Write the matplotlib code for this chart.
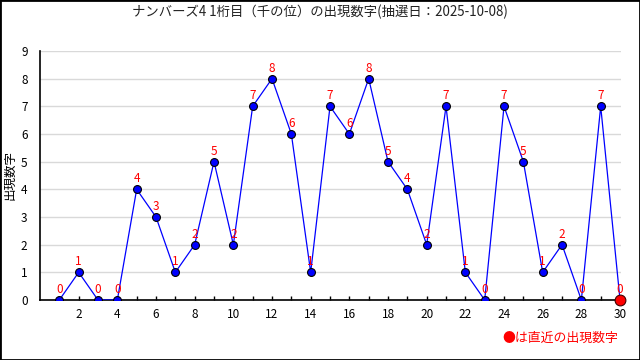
import numpy as np
import matplotlib
matplotlib.use("Agg")
import matplotlib.pyplot as plt
from matplotlib.patches import Rectangle

plt.rcParams['font.family'] = ['Noto Sans CJK JP', 'DejaVu Sans']

draws = list(range(1, 31))
digits = [0, 1, 0, 0, 4, 3, 1, 2, 5, 2, 7, 8, 6, 1, 7, 6, 8, 5, 4, 2,
          7, 1, 0, 7, 5, 1, 2, 0, 7, 0]
title = "ナンバーズ4 1桁目（千の位）の出現数字(抽選日：2025-10-08)"

fig = plt.figure(figsize=(6.4, 3.6), dpi=100)
ax = fig.add_axes([40 / 640, 1 - 300 / 360, 581 / 640, 249 / 360])

# 枠線
fig.patches.append(Rectangle((0, 0), 1, 1, transform=fig.transFigure,
                             fill=False, edgecolor='black', linewidth=2))

ax.plot(draws, digits, color='blue', lw=0.9, zorder=3)
ax.scatter(draws[:-1], digits[:-1], s=32, color='blue', edgecolor='black',
           linewidth=0.8, zorder=4)
ax.scatter(draws[-1:], digits[-1:], s=60, color='red', edgecolor='#400000',
           linewidth=0.8, zorder=5, clip_on=False)

for x, y in zip(draws, digits):
    ax.annotate(str(y), (x, y), xytext=(0, 3), textcoords='offset points',
                ha='center', va='bottom', color='red', fontsize=8.5,
                zorder=6, annotation_clip=False)

ax.set_xlim(0, 30.05)
ax.set_ylim(0, 9)
ax.set_xticks(range(2, 31, 2))
ax.set_xticks(range(1, 31), minor=True)
ax.set_yticks(range(0, 10))
ax.tick_params(axis='x', which='both', direction='in', length=3, width=1,
               labelsize=8.5, pad=6, colors='black')
ax.tick_params(axis='y', length=0, labelsize=8.5, pad=9)

for s in ['top', 'right']:
    ax.spines[s].set_visible(False)
ax.spines['left'].set_linewidth(1.2)
ax.spines['bottom'].set_linewidth(1.2)
ax.yaxis.grid(True, color='#d9d9d9', lw=1)
ax.set_axisbelow(True)

fig.text(10 / 640, 1 - 175 / 360, "出現数字", rotation=90, ha='center',
         va='center', fontsize=9)
fig.text(0.5, 1 - 12 / 360, title, ha='center', va='center', fontsize=9.6,
         color='#222222')
fig.text(618 / 640, 1 - 338 / 360, "●は直近の出現数字", ha='right',
         va='center', fontsize=9.3, color='red')

fig.savefig("out.png", dpi=100)
